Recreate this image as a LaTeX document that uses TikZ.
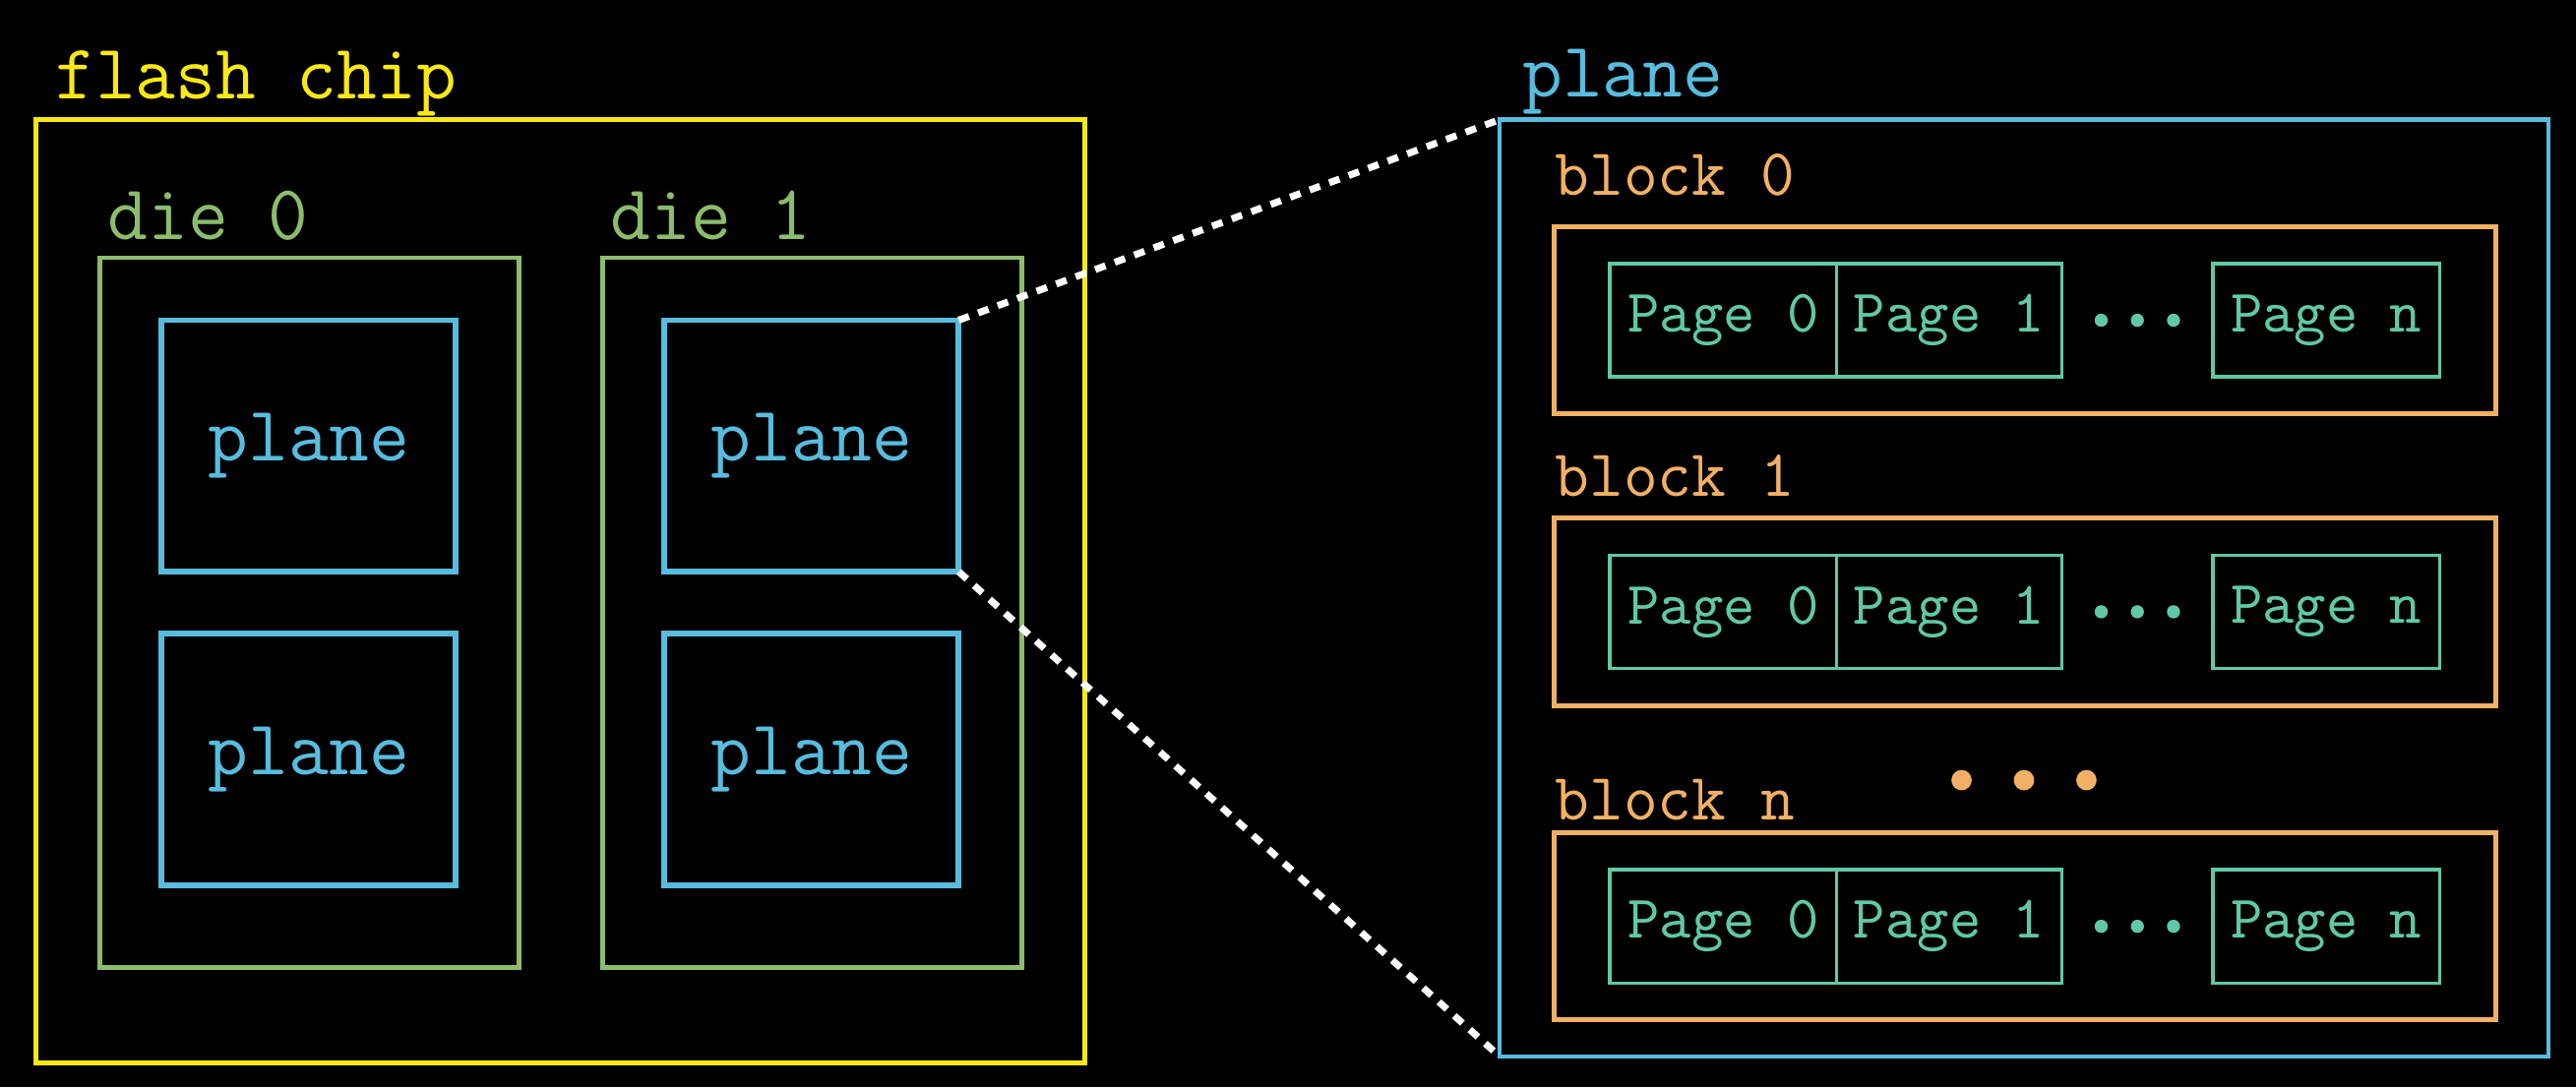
\documentclass[tikz,border=0pt]{standalone}
\usepackage{fontspec}
\usetikzlibrary{calc}
\definecolor{chipyellow}{RGB}{250,232,20}
\definecolor{diegreen}{RGB}{140,188,108}
\definecolor{planeblue}{RGB}{88,188,222}
\definecolor{blockorange}{RGB}{242,176,100}
\definecolor{pageteal}{RGB}{96,200,168}
\tikzset{
 box/.style={draw, inner sep=0pt, outer sep=0pt},
 bigtext/.style={font=\ttfamily\fontsize{13.5}{16}\selectfont},
 chipbox/.style={box, chipyellow, line width=.9pt},
 diebox/.style={box, diegreen, line width=.8pt},
 planebox/.style={box, planeblue, line width=1pt, bigtext, text=planeblue, minimum width=1.79cm, minimum height=1.53cm},
 blockbox/.style={box, blockorange, line width=.85pt, minimum width=5.73cm, minimum height=1.14cm},
 pagebox/.style={box, pageteal, line width=.6pt, text=pageteal, minimum height=.69cm,
   font=\ttfamily\fontsize{10.5}{12}\selectfont},
 lbl/.style={anchor=base west, inner sep=0pt},
 zoomline/.style={white, line width=1.2pt, dash pattern=on 1.9pt off 1.7pt}
}
\begin{document}
\begin{tikzpicture}[x=0.01cm, y=-0.01cm]
\fill[black] (0,0) rectangle (1568,662);
% left side: the chip
\node[chipbox, minimum width=6.38cm, minimum height=5.74cm] (chip) at (341,360) {};
\node[lbl, bigtext, text=chipyellow] (chiplbl) at (33,60) {flash chip};
\foreach \d/\x in {0/188.5, 1/494.5} {
 \node[diebox, minimum width=2.55cm, minimum height=4.32cm] (die\d) at (\x,373) {};
 \node[lbl, bigtext, text=diegreen] (dielbl\d) at (\x-123.5,146) {die \d};
 \node[planebox] (pl\d0) at (\x-0.5,271.5) {plane};
 \node[planebox] (pl\d1) at (\x-0.5,462.5) {plane};
}
% right side: one plane
\node[box, planeblue, line width=.75pt, minimum width=6.38cm, minimum height=5.70cm] (zoom) at (1232,358) {};
\node[lbl, bigtext, text=planeblue] (zoomlbl) at (926,59) {plane};
\draw[zoomline] (pl10.north east) -- (zoom.north west);
\draw[zoomline] (pl10.south east) -- (zoom.south west);
\foreach \b/\y/\ly in {0/195/119, 1/372.5/302, n/564/499} {
 \node[blockbox] (blk\b) at (1232.5,\y) {};
 \node[lbl, text=blockorange, font=\ttfamily\fontsize{11.5}{14}\selectfont] (blklbl\b) at (946,\ly) {block \b};
 \node[pagebox, minimum width=1.38cm] (pg\b0) at (1049,\y) {Page 0};
 \node[pagebox, minimum width=1.37cm] (pg\b1) at (1186.5,\y) {Page 1};
 \node[pagebox, minimum width=1.38cm] (pg\b n) at (1416,\y) {Page n};
 \foreach \dx in {-22,0,22}
  \fill[pageteal] (1301+\dx,\y) circle (0.04cm);
}
\foreach \x in {1194,1232,1270}
 \fill[blockorange] (\x,475) circle (0.062cm);
\end{tikzpicture}
\end{document}
